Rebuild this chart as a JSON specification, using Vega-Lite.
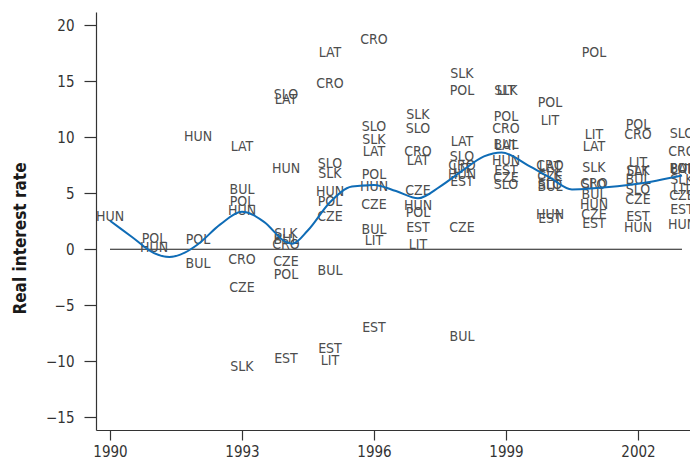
{
  "$schema": "https://vega.github.io/schema/vega-lite/v6.json",
  "autosize": {"type": "none"},
  "padding": {"left": 96, "top": 12, "right": 0, "bottom": 32},
  "width": 594,
  "height": 418,
  "background": "white",
  "config": {
    "view": {"stroke": null},
    "font": "DejaVu Sans Condensed",
    "axis": {
      "grid": false,
      "domainColor": "#333333",
      "domainWidth": 1.2,
      "tickColor": "#333333",
      "tickWidth": 1.2,
      "labelFont": "DejaVu Sans Condensed",
      "labelFontSize": 15,
      "labelColor": "#333333",
      "titleFont": "DejaVu Sans Condensed",
      "titleColor": "#1a1a1a"
    }
  },
  "encoding": {
    "x": {
      "field": "year",
      "type": "quantitative",
      "scale": {"domain": [1989.682, 2003.182], "nice": false, "zero": false},
      "axis": {
        "values": [1990, 1993, 1996, 1999, 2002],
        "format": "d",
        "title": null,
        "tickSize": 10,
        "labelPadding": 4,
        "labelFlush": false
      }
    },
    "y": {
      "field": "rate",
      "type": "quantitative",
      "scale": {"domain": [-16.15, 21.2], "nice": false, "zero": false},
      "axis": {
        "values": [-15, -10, -5, 0, 5, 10, 15, 20],
        "format": "~r",
        "labelExpr": "replace(datum.label, '-', '\u2212')",
        "title": "Real interest rate",
        "titleFontSize": 17,
        "titleFontWeight": "bold",
        "titleX": -71,
        "titleY": 226,
        "titleBaseline": "alphabetic",
        "tickSize": 12,
        "labelPadding": 10
      }
    }
  },
  "layer": [
    {
      "data": {"values": [{"year": 1990, "year_end": 2003, "rate": 0}]},
      "mark": {"type": "rule", "color": "#1a1a1a", "strokeWidth": 1.2},
      "encoding": {"x2": {"field": "year_end"}}
    },
    {
      "data": {
        "values": [
          {"year": 1990, "country": "HUN", "rate": 2.9},
          {"year": 1991, "country": "POL", "rate": 0.95},
          {"year": 1991, "country": "HUN", "rate": 0.1},
          {"year": 1992, "country": "HUN", "rate": 10.0},
          {"year": 1992, "country": "POL", "rate": 0.8},
          {"year": 1992, "country": "BUL", "rate": -1.35},
          {"year": 1993, "country": "LAT", "rate": 9.1},
          {"year": 1993, "country": "BUL", "rate": 5.3},
          {"year": 1993, "country": "POL", "rate": 4.25},
          {"year": 1993, "country": "HUN", "rate": 3.4},
          {"year": 1993, "country": "CRO", "rate": -1.0},
          {"year": 1993, "country": "CZE", "rate": -3.5},
          {"year": 1993, "country": "SLK", "rate": -10.5},
          {"year": 1994, "country": "SLO", "rate": 13.8},
          {"year": 1994, "country": "LAT", "rate": 13.3},
          {"year": 1994, "country": "HUN", "rate": 7.15},
          {"year": 1994, "country": "SLK", "rate": 1.4},
          {"year": 1994, "country": "BUL", "rate": 0.85},
          {"year": 1994, "country": "CRO", "rate": 0.35},
          {"year": 1994, "country": "CZE", "rate": -1.1},
          {"year": 1994, "country": "POL", "rate": -2.3},
          {"year": 1994, "country": "EST", "rate": -9.8},
          {"year": 1995, "country": "LAT", "rate": 17.5},
          {"year": 1995, "country": "CRO", "rate": 14.8},
          {"year": 1995, "country": "SLO", "rate": 7.6},
          {"year": 1995, "country": "SLK", "rate": 6.7},
          {"year": 1995, "country": "HUN", "rate": 5.15},
          {"year": 1995, "country": "POL", "rate": 4.25},
          {"year": 1995, "country": "CZE", "rate": 2.9},
          {"year": 1995, "country": "BUL", "rate": -1.9},
          {"year": 1995, "country": "EST", "rate": -8.9},
          {"year": 1995, "country": "LIT", "rate": -10.0},
          {"year": 1996, "country": "CRO", "rate": 18.7},
          {"year": 1996, "country": "SLO", "rate": 10.95},
          {"year": 1996, "country": "SLK", "rate": 9.75},
          {"year": 1996, "country": "LAT", "rate": 8.7},
          {"year": 1996, "country": "POL", "rate": 6.65},
          {"year": 1996, "country": "HUN", "rate": 5.6},
          {"year": 1996, "country": "CZE", "rate": 3.95},
          {"year": 1996, "country": "BUL", "rate": 1.7},
          {"year": 1996, "country": "LIT", "rate": 0.7},
          {"year": 1996, "country": "EST", "rate": -7.05},
          {"year": 1997, "country": "SLK", "rate": 12.0},
          {"year": 1997, "country": "SLO", "rate": 10.75},
          {"year": 1997, "country": "CRO", "rate": 8.7},
          {"year": 1997, "country": "LAT", "rate": 7.85},
          {"year": 1997, "country": "CZE", "rate": 5.25},
          {"year": 1997, "country": "HUN", "rate": 3.9},
          {"year": 1997, "country": "POL", "rate": 3.2},
          {"year": 1997, "country": "EST", "rate": 1.9},
          {"year": 1997, "country": "LIT", "rate": 0.4},
          {"year": 1998, "country": "SLK", "rate": 15.65},
          {"year": 1998, "country": "POL", "rate": 14.15},
          {"year": 1998, "country": "LAT", "rate": 9.6},
          {"year": 1998, "country": "SLO", "rate": 8.2},
          {"year": 1998, "country": "CRO", "rate": 7.4},
          {"year": 1998, "country": "LIT", "rate": 7.2},
          {"year": 1998, "country": "HUN", "rate": 6.6},
          {"year": 1998, "country": "EST", "rate": 6.0},
          {"year": 1998, "country": "CZE", "rate": 1.9},
          {"year": 1998, "country": "BUL", "rate": -7.8},
          {"year": 1999, "country": "SLK", "rate": 14.15},
          {"year": 1999, "country": "LIT", "rate": 14.15},
          {"year": 1999, "country": "POL", "rate": 11.85},
          {"year": 1999, "country": "CRO", "rate": 10.75},
          {"year": 1999, "country": "BUL", "rate": 9.3},
          {"year": 1999, "country": "LAT", "rate": 9.2},
          {"year": 1999, "country": "HUN", "rate": 7.85},
          {"year": 1999, "country": "EST", "rate": 6.95},
          {"year": 1999, "country": "CZE", "rate": 6.35},
          {"year": 1999, "country": "SLO", "rate": 5.75},
          {"year": 2000, "country": "POL", "rate": 13.1},
          {"year": 2000, "country": "LIT", "rate": 11.45},
          {"year": 2000, "country": "CRO", "rate": 7.4},
          {"year": 2000, "country": "LAT", "rate": 7.35},
          {"year": 2000, "country": "SLK", "rate": 6.6},
          {"year": 2000, "country": "CZE", "rate": 6.45},
          {"year": 2000, "country": "SLO", "rate": 5.7},
          {"year": 2000, "country": "BUL", "rate": 5.6},
          {"year": 2000, "country": "HUN", "rate": 3.1},
          {"year": 2000, "country": "EST", "rate": 2.7},
          {"year": 2001, "country": "POL", "rate": 17.5},
          {"year": 2001, "country": "LIT", "rate": 10.2},
          {"year": 2001, "country": "LAT", "rate": 9.1},
          {"year": 2001, "country": "SLK", "rate": 7.3},
          {"year": 2001, "country": "CRO", "rate": 5.85},
          {"year": 2001, "country": "SLO", "rate": 5.75},
          {"year": 2001, "country": "BUL", "rate": 4.85},
          {"year": 2001, "country": "HUN", "rate": 3.95},
          {"year": 2001, "country": "CZE", "rate": 3.05},
          {"year": 2001, "country": "EST", "rate": 2.3},
          {"year": 2002, "country": "POL", "rate": 11.1},
          {"year": 2002, "country": "CRO", "rate": 10.2},
          {"year": 2002, "country": "LIT", "rate": 7.7},
          {"year": 2002, "country": "SLK", "rate": 6.95},
          {"year": 2002, "country": "LAT", "rate": 6.9},
          {"year": 2002, "country": "BUL", "rate": 6.2},
          {"year": 2002, "country": "SLO", "rate": 5.3},
          {"year": 2002, "country": "CZE", "rate": 4.4},
          {"year": 2002, "country": "EST", "rate": 2.85},
          {"year": 2002, "country": "HUN", "rate": 1.9},
          {"year": 2003, "country": "SLO", "rate": 10.3},
          {"year": 2003, "country": "CRO", "rate": 8.65},
          {"year": 2003, "country": "POL", "rate": 7.2},
          {"year": 2003, "country": "BUL", "rate": 7.15},
          {"year": 2003, "country": "LAT", "rate": 7.1},
          {"year": 2003, "country": "SLK", "rate": 6.2},
          {"year": 2003, "country": "LIT", "rate": 5.3},
          {"year": 2003, "country": "CZE", "rate": 4.75},
          {"year": 2003, "country": "EST", "rate": 3.55},
          {"year": 2003, "country": "HUN", "rate": 2.15}
        ]
      },
      "mark": {
        "type": "text",
        "font": "DejaVu Sans Condensed",
        "fontSize": 14,
        "color": "#4d4d4d",
        "align": "center",
        "baseline": "middle"
      },
      "encoding": {"text": {"field": "country"}}
    },
    {
      "data": {
        "values": [
          {"year": 1990.0, "rate": 2.55},
          {"year": 1990.5, "rate": 1.1},
          {"year": 1991.0, "rate": -0.35},
          {"year": 1991.35, "rate": -0.7},
          {"year": 1991.7, "rate": -0.3},
          {"year": 1992.0, "rate": 0.45},
          {"year": 1992.5, "rate": 2.2},
          {"year": 1993.0, "rate": 3.35},
          {"year": 1993.5, "rate": 2.45},
          {"year": 1994.0, "rate": 0.65},
          {"year": 1994.15, "rate": 0.5},
          {"year": 1994.5, "rate": 1.7},
          {"year": 1995.0, "rate": 4.2},
          {"year": 1995.5, "rate": 5.6},
          {"year": 1996.0, "rate": 5.75},
          {"year": 1996.5, "rate": 5.2},
          {"year": 1997.0, "rate": 4.55},
          {"year": 1997.5, "rate": 5.6},
          {"year": 1998.0, "rate": 7.0},
          {"year": 1998.5, "rate": 8.3},
          {"year": 1998.9, "rate": 8.65},
          {"year": 1999.5, "rate": 7.5},
          {"year": 2000.0, "rate": 6.4},
          {"year": 2000.5, "rate": 5.35},
          {"year": 2001.0, "rate": 5.45},
          {"year": 2002.0, "rate": 5.85},
          {"year": 2003.0, "rate": 6.6}
        ]
      },
      "mark": {"type": "line", "interpolate": "monotone", "color": "#0f6cb6", "strokeWidth": 2}
    }
  ]
}
